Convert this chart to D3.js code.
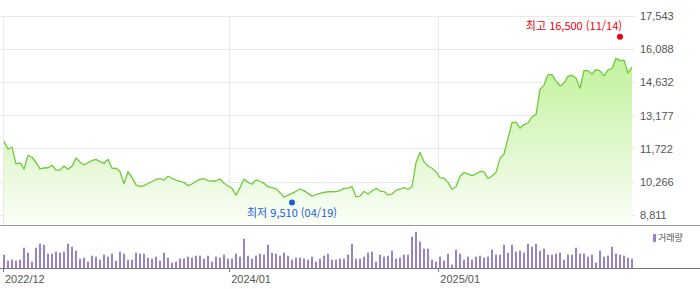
<!DOCTYPE html>
<html lang="ko">
<head>
<meta charset="UTF-8">
<title>주가 차트</title>
<script src="https://d3js.org/d3.v7.min.js"></script>
<style>
    body { margin: 0; background: #fff; }
    .axis-text { font-family: "Liberation Sans", Arial, sans-serif; font-size: 11px; fill: #555; }
    .mark-text { font-family: "Noto Sans CJK KR", sans-serif; font-size: 11px; }
    .legend-text { font-family: "Noto Sans CJK KR", sans-serif; font-size: 9px; fill: #555; }
</style>
</head>
<body>
<svg id="chart" width="700" height="289"></svg>
<script>
    // weekly closing prices, first week ends 2022-12-02
    const startDate = '2022-12-02';
    const closePrice = [
        12060, 11710, 11800, 11070, 11110, 10840, 11450, 11360, 11130, 10850,
        10890, 10900, 11010, 10800, 10800, 10980, 10840, 10960, 11330, 11150,
        11030, 11120, 11210, 11270, 11170, 11090, 11270, 10870, 10880, 10740,
        10200, 10730, 10470, 10150, 10080, 10120, 10210, 10300, 10390, 10430,
        10360, 10530, 10440, 10360, 10310, 10250, 10120, 10190, 10310, 10390,
        10430, 10340, 10320, 10320, 10420, 10220, 10100, 10000, 9700, 10030,
        10410, 10260, 10180, 10370, 10310, 10220, 10070, 10030, 9980, 9810,
        9610, 9700, 9780, 9870, 9970, 9900, 9780, 9660, 9730, 9780,
        9820, 9850, 9850, 9860, 9900, 10000, 10010, 10070, 9630, 9660,
        9870, 9750, 9880, 10000, 9880, 9860, 9710, 9750, 9910, 9960,
        10030, 9960, 10070, 11120, 11580, 11170, 10980, 10880, 10720, 10470,
        10440, 10260, 9960, 10070, 10530, 10690, 10630, 10560, 10630, 10740,
        10720, 10430, 10540, 10700, 11310, 11500, 12190, 12870, 12900, 12630,
        12790, 12860, 13120, 13230, 14330, 14520, 14980, 14980, 14700, 14480,
        14610, 14900, 14950, 14830, 14380, 15150, 15150, 15000, 15200, 15140,
        14920, 15180, 15250, 15690, 15590, 15610, 15050, 15300
    ];
    // weekly volume (shares)
    const volume = [
        40000, 22000, 25000, 22000, 25000, 61000, 46000, 19000, 61000, 73000,
        70000, 43000, 43000, 49000, 46000, 49000, 73000, 64000, 52000, 28000,
        31000, 19000, 37000, 34000, 25000, 40000, 34000, 43000, 22000, 49000,
        43000, 25000, 25000, 46000, 43000, 43000, 31000, 28000, 34000, 22000,
        46000, 31000, 16000, 19000, 28000, 28000, 34000, 31000, 37000, 37000,
        28000, 37000, 19000, 34000, 31000, 40000, 28000, 28000, 43000, 34000,
        88000, 37000, 28000, 37000, 43000, 40000, 70000, 46000, 43000, 37000,
        46000, 37000, 25000, 31000, 31000, 28000, 25000, 34000, 19000, 28000,
        37000, 43000, 25000, 25000, 28000, 28000, 40000, 73000, 28000, 28000,
        34000, 46000, 49000, 19000, 40000, 34000, 37000, 52000, 28000, 31000,
        40000, 40000, 94000, 109000, 79000, 58000, 58000, 25000, 19000, 34000,
        22000, 43000, 10000, 55000, 43000, 25000, 34000, 25000, 34000, 37000,
        31000, 34000, 55000, 40000, 40000, 70000, 46000, 70000, 49000, 52000,
        46000, 73000, 64000, 73000, 52000, 58000, 40000, 40000, 43000, 46000,
        25000, 40000, 40000, 61000, 43000, 43000, 34000, 40000, 16000, 52000,
        34000, 37000, 64000, 43000, 40000, 37000, 31000, 28000
    ];
    const priceTicks = [8811, 10266, 11722, 13177, 14632, 16088, 17543];
    const monthTicks = ['2022-12-01', '2024-01-01', '2025-01-01'];
    const highMark = { label: '최고', value: 16500, date: '2025-11-14' };
    const lowMark = { label: '최저', value: 9510, date: '2024-04-19' };
    const volumeName = '거래량';

    const parse = d3.timeParse('%Y-%m-%d');
    const start = parse(startDate);
    const data = closePrice.map((c, i) => ({
        date: d3.timeWeek.offset(start, i),
        close: c,
        volume: volume[i]
    }));

    const W = 700;
    const priceBottom = 225;
    const volBase = 268;

    const svg = d3.select('#chart');

    const x = d3.scaleTime()
        .domain(d3.extent(data, d => d.date))
        .range([4, 632]);
    const yPrice = d3.scaleLinear()
        .domain([priceTicks[0], priceTicks[priceTicks.length - 1]])
        .range([215.5, 16]);
    const yVol = d3.scaleLinear()
        .domain([0, d3.max(volume)])
        .range([volBase, 231.7]);

    const crisp = v => Math.floor(v) + 0.5;

    // gradient for the area
    const grad = svg.append('defs').append('linearGradient')
        .attr('id', 'priceFill')
        .attr('gradientUnits', 'userSpaceOnUse')
        .attr('x1', 0).attr('x2', 0)
        .attr('y1', 16).attr('y2', priceBottom);
    grad.append('stop').attr('offset', '0%').attr('stop-color', '#b4ee84');
    grad.append('stop').attr('offset', '100%').attr('stop-color', '#fbfef8');

    // horizontal grid
    svg.append('g').selectAll('line')
        .data(priceTicks)
        .join('line')
        .attr('x1', 0).attr('x2', 635)
        .attr('y1', d => crisp(yPrice(d)))
        .attr('y2', d => crisp(yPrice(d)))
        .attr('stroke', '#e9e9e9');

    // vertical grid
    const months = monthTicks.map(parse);
    svg.append('g').selectAll('line')
        .data(months)
        .join('line')
        .attr('x1', d => crisp(x(d))).attr('x2', d => crisp(x(d)))
        .attr('y1', 16).attr('y2', priceBottom)
        .attr('stroke', '#e9e9e9');

    // price area + line
    svg.append('path')
        .datum(data)
        .attr('fill', 'url(#priceFill)')
        .attr('d', d3.area()
            .x(d => x(d.date))
            .y0(priceBottom)
            .y1(d => yPrice(d.close)));

    svg.append('path')
        .datum(data)
        .attr('fill', 'none')
        .attr('stroke', '#6ccb3a')
        .attr('stroke-width', 1.3)
        .attr('stroke-linejoin', 'round')
        .attr('d', d3.line()
            .x(d => x(d.date))
            .y(d => yPrice(d.close)));

    // right axis labels
    svg.append('g').selectAll('text')
        .data(priceTicks)
        .join('text')
        .attr('class', 'axis-text')
        .attr('x', 640)
        .attr('y', d => yPrice(d))
        .attr('dy', '0.36em')
        .text(d3.format(','));

    // panel separators
    svg.append('line')
        .attr('x1', 0).attr('x2', W)
        .attr('y1', priceBottom + 0.5).attr('y2', priceBottom + 0.5)
        .attr('stroke', '#999');

    // volume bars
    svg.append('g').selectAll('rect')
        .data(data)
        .join('rect')
        .attr('x', d => x(d.date) - 1)
        .attr('width', 2)
        .attr('y', d => yVol(d.volume))
        .attr('height', d => volBase - yVol(d.volume))
        .attr('fill', '#9a82c9');

    svg.append('line')
        .attr('x1', 0).attr('x2', W)
        .attr('y1', volBase + 0.5).attr('y2', volBase + 0.5)
        .attr('stroke', '#777');

    // x axis ticks + labels
    svg.append('g').selectAll('line')
        .data(months)
        .join('line')
        .attr('x1', d => crisp(x(d))).attr('x2', d => crisp(x(d)))
        .attr('y1', volBase).attr('y2', volBase + 4)
        .attr('stroke', '#777');

    svg.append('g').selectAll('text')
        .data(months)
        .join('text')
        .attr('class', 'axis-text')
        .attr('x', d => x(d) + 1.5)
        .attr('y', 282.5)
        .text(d3.timeFormat('%Y/%m'));

    // high / low markers
    const fmt = d3.format(',');
    const md = d3.timeFormat('%m/%d');

    const hx = x(parse(highMark.date)), hy = yPrice(highMark.value) - 3;
    svg.append('circle').attr('cx', hx).attr('cy', hy).attr('r', 3).attr('fill', '#f0000f');
    svg.append('text')
        .attr('class', 'mark-text')
        .attr('x', hx + 2).attr('y', hy - 7)
        .attr('text-anchor', 'end')
        .attr('fill', '#e8000c')
        .text(`${highMark.label} ${fmt(highMark.value)} (${md(parse(highMark.date))})`);

    const lx = x(parse(lowMark.date)), ly = yPrice(lowMark.value) + 3;
    svg.append('circle').attr('cx', lx).attr('cy', ly).attr('r', 3).attr('fill', '#1a5fd6');
    svg.append('text')
        .attr('class', 'mark-text')
        .attr('x', lx).attr('y', ly + 14)
        .attr('text-anchor', 'middle')
        .attr('fill', '#1a5fd6')
        .text(`${lowMark.label} ${fmt(lowMark.value)} (${md(parse(lowMark.date))})`);

    // volume legend
    svg.append('rect')
        .attr('x', 653).attr('y', 234)
        .attr('width', 3).attr('height', 8)
        .attr('fill', '#9a82c9');
    svg.append('text')
        .attr('class', 'legend-text')
        .attr('x', 658).attr('y', 241)
        .text(volumeName);
</script>
</body>
</html>
